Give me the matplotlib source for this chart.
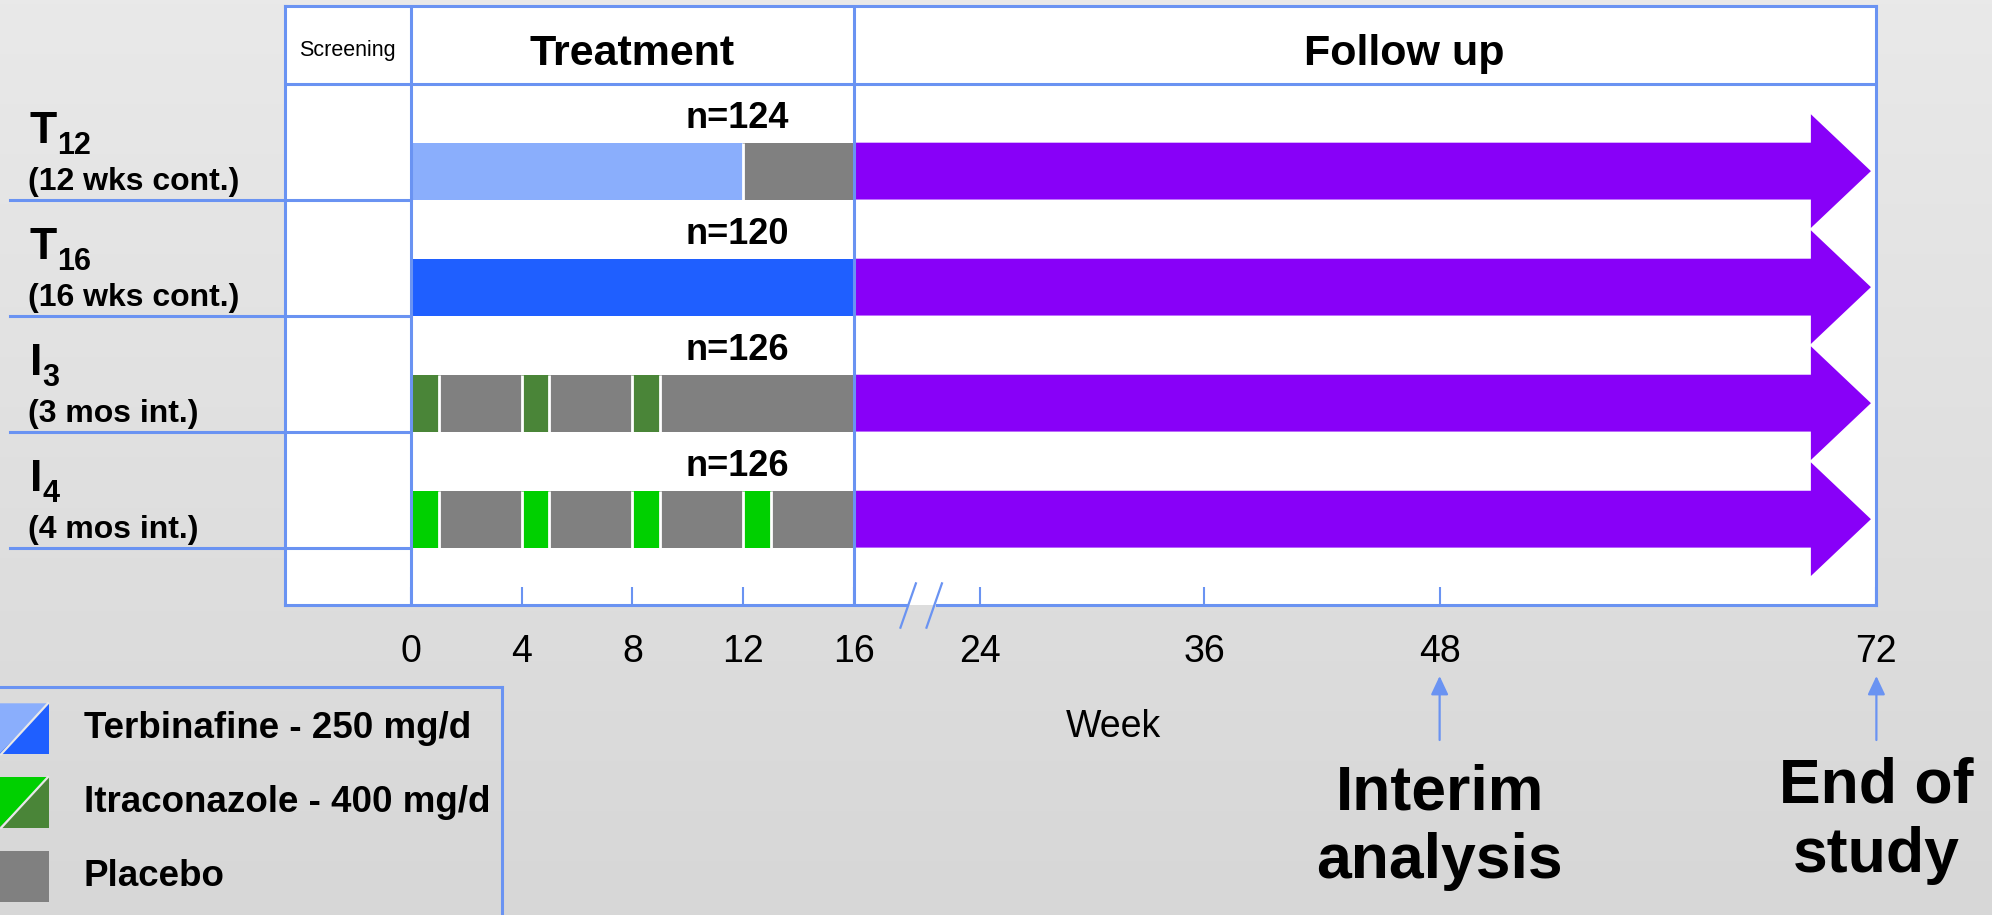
import numpy as np
import matplotlib
matplotlib.use("Agg")
import matplotlib.pyplot as plt
from matplotlib.colors import LinearSegmentedColormap
from matplotlib.patches import Polygon, Rectangle
from matplotlib.transforms import blended_transform_factory

plt.rcParams['font.family'] = ['Liberation Sans', 'DejaVu Sans']

# study arms
arm_letters = ['T', 'T', 'I', 'I']
arm_subs = ['12', '16', '3', '4']
arm_desc = ['(12 wks cont.)', '(16 wks cont.)', '(3 mos int.)', '(4 mos int.)']
n_patients = [124, 120, 126, 126]
terb_weeks = [12, 16, 0, 0]              # continuous terbinafine from week 0
itra_pulses = [[], [], [0, 4, 8], [0, 4, 8, 12]]   # start week of 1-week pulses
pulse_len = 1
treat_end = 16
study_end = 72
interim_week = 48
tick_weeks = [0, 4, 8, 12, 16, 24, 36, 48, 72]

legend_labels = ['Terbinafine - 250 mg/d', 'Itraconazole - 400 mg/d', 'Placebo']

c_line = '#6a93f2'
arm_colors = ['#8aaefc', '#1f5fff', '#4a8538', '#00d000']
c_plac = '#808080'
c_follow = '#8800f8'
lw_tab = 2.2

# broken week axis: piecewise mapping week -> position
knot_weeks = [-4, 0, 16, 24, 36, 48, 72]
knot_pos = [224, 323.6, 672, 771.4, 947.7, 1133.2, 1477]


def fwd(x):
    return np.interp(x, knot_weeks, knot_pos)


def inv(p):
    return np.interp(p, knot_pos, knot_weeks)


def segments(i):
    if terb_weeks[i]:
        segs = [(0, terb_weeks[i], arm_colors[i])]
        if terb_weeks[i] < treat_end:
            segs.append((terb_weeks[i], treat_end, c_plac))
        return segs
    segs = []
    t = 0
    for p in itra_pulses[i]:
        if p > t:
            segs.append((t, p, c_plac))
        segs.append((p, p + pulse_len, arm_colors[i]))
        t = p + pulse_len
    if t < treat_end:
        segs.append((t, treat_end, c_plac))
    return segs


fig = plt.figure(figsize=(19.92, 9.15), dpi=100)
renderer = fig.canvas.get_renderer()

bg = fig.add_axes([0, 0, 1, 1], zorder=-10)
bg.imshow(np.linspace(0, 1, 256).reshape(-1, 1), aspect='auto', extent=[0, 1, 0, 1],
          cmap=LinearSegmentedColormap.from_list('bg', ['#e9e9e9', '#d7d7d7']))
bg.axis('off')

ax = fig.add_axes([224 / 1568, 1 - 476 / 720, (1477 - 224) / 1568, (476 - 5) / 720])
ax.set_xscale('function', functions=(fwd, inv))
ax.set_xlim(-4, 72)
ax.set_ylim(4.494, -0.665)
ax.set_facecolor('white')
for s in ['top', 'left', 'right']:
    ax.spines[s].set_color(c_line)
    ax.spines[s].set_linewidth(lw_tab)
ax.spines['bottom'].set_visible(False)

xt = ax.get_xaxis_transform()
ax.plot([-4, 19.3], [0, 0], transform=xt, color=c_line, lw=lw_tab, clip_on=False, zorder=5)
ax.plot([21.3, 72], [0, 0], transform=xt, color=c_line, lw=lw_tab, clip_on=False, zorder=5)
for b in (19.45, 21.1):
    ax.plot([b + 0.49, b - 0.49], [0.036, -0.038], transform=xt, color=c_line, lw=1.6,
            clip_on=False, zorder=5)

ax.set_xticks(tick_weeks)
ax.set_xticklabels([str(w) for w in tick_weeks])
ax.tick_params(axis='x', direction='in', length=12.8, width=1.5, color=c_line,
               labelsize=27, pad=21)
ax.set_yticks([])

ax.axvline(0, color=c_line, lw=lw_tab, zorder=4)
ax.axvline(treat_end, color=c_line, lw=lw_tab, zorder=4)
ax.axhline(0, color=c_line, lw=lw_tab, zorder=4)

# row separators from the left margin to week 0
rt = blended_transform_factory(fig.transFigure, ax.transData)
x_w0 = fig.transFigure.inverted().transform(ax.transData.transform((0, 0)))[0]
for k in range(1, len(arm_subs) + 1):
    ax.plot([10 / 1992, x_w0], [k, k], transform=rt, color=c_line, lw=lw_tab, clip_on=False, zorder=4)

ax.text(-2, -0.233, 'Screening', ha='center', va='baseline', fontsize=15.5)
ax.text(8, -0.16, 'Treatment', ha='center', va='baseline', fontsize=31, fontweight='bold')
ax.text(46.2, -0.16, 'Follow up', ha='center', va='baseline', fontsize=31, fontweight='bold')

head_base, head_tip = 68.4, 71.7
for i in range(len(arm_subs)):
    segs = segments(i)
    for s, e, c in segs:
        ax.barh(i + 0.755, e - s, left=s, height=0.49, color=c, linewidth=0, zorder=2)
    ax.vlines([s for s, e, c in segs[1:]], i + 0.51, i + 1.0, color='white', lw=2, zorder=3)
    ax.fill([treat_end, head_base, head_base, head_tip, head_base, head_base, treat_end],
            [i + 0.51, i + 0.51, i + 0.265, i + 0.755, i + 1.245, i + 1.0, i + 1.0],
            color=c_follow, lw=0, zorder=2)
    ax.text(11.8, i + 0.38, f'n={n_patients[i]}', ha='center', va='baseline',
            fontsize=26, fontweight='bold')
    letter = ax.text(29.8 / 1992, i + 0.515, arm_letters[i], transform=rt, ha='left',
                     va='baseline', fontsize=32, fontweight='bold')
    w_pts = letter.get_window_extent(renderer).width * 72 / fig.dpi
    ax.annotate(arm_subs[i], xy=(29.8 / 1992, i + 0.515), xycoords=rt,
                xytext=(w_pts, -7.5), textcoords='offset points', ha='left', va='baseline',
                fontsize=22, fontweight='bold')
    ax.text(28 / 1992, i + 0.92, arm_desc[i], transform=rt, ha='left', va='baseline',
            fontsize=23, fontweight='bold')

# overlay in figure pixels for legend and annotations
pix = fig.add_axes([0, 0, 1, 1], zorder=5)
pix.set_xlim(0, 1992)
pix.set_ylim(915, 0)
pix.axis('off')
pix.patch.set_alpha(0)

pix.plot([0, 501.8], [686.7, 686.7], color=c_line, lw=lw_tab)
pix.plot([501.8, 501.8], [686.7, 915], color=c_line, lw=lw_tab)
swatches = [(arm_colors[0], arm_colors[1]), (arm_colors[3], arm_colors[2]), (c_plac, c_plac)]
for k, ((ca, cb), lab) in enumerate(zip(swatches, legend_labels)):
    top = 703.3 + 73.7 * k
    bot = top + 51
    x0, x1 = -1, 49
    if ca == cb:
        pix.add_patch(Rectangle((x0, top), x1 - x0, bot - top, color=ca, lw=0))
    else:
        pix.add_patch(Polygon([(x0, top), (x1, top), (x0, bot)], closed=True, color=ca, lw=0))
        pix.add_patch(Polygon([(x1, top), (x1, bot), (x0, bot)], closed=True, color=cb, lw=0))
        pix.plot([x0 + 2, x1 - 1], [bot, top], color='#e8e8e8', lw=1.6)
    pix.text(84, (top + bot) / 2, lab, ha='left', va='center', fontsize=26.5, fontweight='bold')

pix.text(1113, 727, 'Week', ha='center', va='center', fontsize=27)

mt = blended_transform_factory(ax.transData, pix.transData)
for w in (interim_week, study_end):
    pix.annotate('', xy=(w, 676), xytext=(w, 740), xycoords=mt, textcoords=mt,
                 arrowprops=dict(arrowstyle='-|>,head_length=1.13,head_width=0.53',
                                 mutation_scale=10, color=c_line, lw=1.6,
                                 shrinkA=0, shrinkB=0))
pix.text(interim_week, 810, 'Interim', transform=mt, ha='center', va='baseline',
         fontsize=45, fontweight='bold')
pix.text(interim_week, 878, 'analysis', transform=mt, ha='center', va='baseline',
         fontsize=45, fontweight='bold')
pix.text(study_end, 802.7, 'End of', transform=mt, ha='center', va='baseline',
         fontsize=45, fontweight='bold')
pix.text(study_end, 871.7, 'study', transform=mt, ha='center', va='baseline',
         fontsize=45, fontweight='bold')

fig.savefig('out.png', dpi=100)
